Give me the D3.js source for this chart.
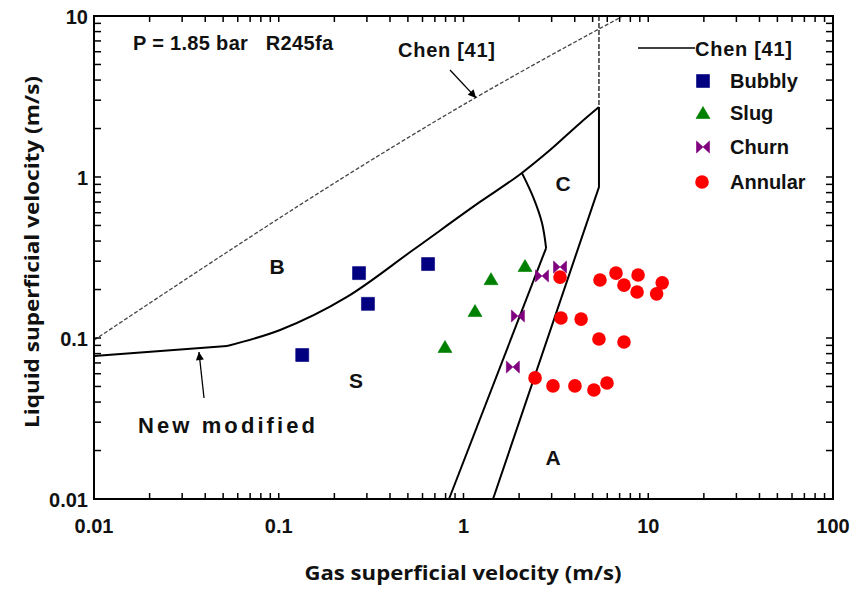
<!DOCTYPE html>
<html><head><meta charset="utf-8">
<script src="https://cdn.jsdelivr.net/npm/d3@7"></script>
<style>
body{margin:0;background:#fff}
text{font-family:"Liberation Sans",Arial,sans-serif;font-weight:bold;fill:#111}
</style>
</head><body><svg id="c" width="856" height="590"></svg>
<script>
// ---- data ----
const bubblyX=[0.134,0.272,0.304,0.643];
const bubblyY=[0.0784,0.253,0.163,0.288];
const slugX=[0.794,1.154,1.409,2.153];
const slugY=[0.0879,0.147,0.232,0.280];
const churnX=[1.85,1.97,2.66,3.33];
const churnY=[0.066,0.137,0.243,0.276];
const annularX=[2.44,3.05,4.01,5.08,5.98,3.33,5.48,6.69,7.39,8.81,8.70,11.1,11.9,3.37,4.33,5.41,7.39];
const annularY=[0.0565,0.0504,0.0504,0.0475,0.0525,0.239,0.229,0.253,0.213,0.246,0.193,0.188,0.220,0.133,0.131,0.0986,0.0944];
// Chen [41] boundaries (dashed)
const chenX=[0.01,0.13,1.18,7.3];
const chenY=[0.097,0.67,3.14,10];
const chenVertX=[5.41,5.41];
const chenVertY=[10,2.72];
// New modified boundaries (solid)
const bsStraightX=[0.01,0.0525];
const bsStraightY=[0.0773,0.0891];
const bsCurveX=[0.0525,0.1017,0.234,0.533,1.228,2.07,2.94,4.27,5.41];
const bsCurveY=[0.0891,0.1122,0.180,0.352,0.700,1.06,1.47,2.16,2.72];
const scArcX=[2.07,2.38,2.66,2.80];
const scArcY=[1.06,0.752,0.518,0.362];
const scLineX=[2.80,0.835];
const scLineY=[0.362,0.01];
const caX=[5.41,5.41,1.445];
const caY=[2.72,0.867,0.01];
// axes
const xTicks=[0.01,0.1,1,10,100];
const xTickLabels=["0.01","0.1","1","10","100"];
const yTicks=[0.01,0.1,1,10];
const yTickLabels=["0.01","0.1","1","10"];
const minorMult=[1,2,3,4,5,6,7,8,9];
// legend
const legendNames=["Bubbly","Slug","Churn","Annular"];
const legendColors=["#000080","#008000","#800080","#ff0000"];
// region letters [label, x, y]
const regions=[["B",0.0978,0.28],["S",0.262,0.0548],["C",3.46,0.918],["A",3.05,0.0182]];

const svg=d3.select("#c");
const L=94,R=833,T=16,B=499;
const x=d3.scaleLog().domain([0.01,100]).range([L,R]);
const y=d3.scaleLog().domain([0.01,10]).range([B,T]);

function minors(lo,hi){const a=[];for(let e=Math.log10(lo);e<Math.log10(hi)-1e-9;e++){minorMult.forEach(m=>a.push(m*Math.pow(10,e)));}a.push(hi);return a;}
const xMin=minors(0.01,100), yMin=minors(0.01,10);

// ---- lines ----
const line=d3.line().x(d=>x(d[0])).y(d=>y(d[1]));
const zip=(a,b)=>a.map((v,i)=>[v,b[i]]);
const g=svg.append("g");
g.append("path").attr("d",d3.line().x(d=>x(d[0])).y(d=>y(d[1])).curve(d3.curveNatural)(zip(chenX,chenY)))
 .attr("fill","none").attr("stroke","#444").attr("stroke-width",1.3).attr("stroke-dasharray","4,2");
g.append("path").attr("d",line(zip(chenVertX,chenVertY)))
 .attr("fill","none").attr("stroke","#333").attr("stroke-width",1.5).attr("stroke-dasharray","5,2");
g.append("path").attr("d",line(zip(bsStraightX,bsStraightY))).attr("fill","none").attr("stroke","#000").attr("stroke-width",2);
g.append("path").attr("d",d3.line().x(d=>x(d[0])).y(d=>y(d[1])).curve(d3.curveMonotoneX)(zip(bsCurveX,bsCurveY)))
 .attr("fill","none").attr("stroke","#000").attr("stroke-width",2);
g.append("path").attr("d",d3.line().x(d=>x(d[0])).y(d=>y(d[1])).curve(d3.curveCatmullRom)(zip(scArcX,scArcY)))
 .attr("fill","none").attr("stroke","#000").attr("stroke-width",2);
g.append("path").attr("d",line(zip(scLineX,scLineY))).attr("fill","none").attr("stroke","#000").attr("stroke-width",2);
g.append("path").attr("d",line(zip(caX,caY))).attr("fill","none").attr("stroke","#000").attr("stroke-width",2);

// ---- markers ----
const sym={
 square:"M-6.5,-6.5H6.5V6.5H-6.5Z",
 tri:"M0,-6.5L7,5.5L-7,5.5Z",
 bow:"M-6.5,-6L0,0L-6.5,6Z M6.5,-6L0,0L6.5,6Z",
};
function pts(X,Y,color,kind){
  const s=svg.append("g");
  zip(X,Y).forEach(p=>{
    if(kind==="circle") s.append("circle").attr("cx",x(p[0])).attr("cy",y(p[1])).attr("r",6.8).attr("fill",color);
    else s.append("path").attr("d",sym[kind]).attr("transform",`translate(${x(p[0])},${y(p[1])})`).attr("fill",color).attr("stroke",color).attr("stroke-width",0.6);
  });
}
pts(bubblyX,bubblyY,legendColors[0],"square");
pts(slugX,slugY,legendColors[1],"tri");
pts(churnX,churnY,legendColors[2],"bow");
pts(annularX,annularY,legendColors[3],"circle");

// ---- axes ----
const ax=svg.append("g").attr("stroke","#000");
ax.append("rect").attr("x",L).attr("y",T).attr("width",R-L).attr("height",B-T).attr("fill","none").attr("stroke-width",2);
xMin.forEach(v=>{
  ax.append("line").attr("x1",x(v)).attr("x2",x(v)).attr("y1",B).attr("y2",B-6).attr("stroke-width",1.5);
  ax.append("line").attr("x1",x(v)).attr("x2",x(v)).attr("y1",T).attr("y2",T+6).attr("stroke-width",1.5);
});
yMin.forEach(v=>{
  ax.append("line").attr("x1",L).attr("x2",L+7).attr("y1",y(v)).attr("y2",y(v)).attr("stroke-width",1.5);
  ax.append("line").attr("x1",R).attr("x2",R-7).attr("y1",y(v)).attr("y2",y(v)).attr("stroke-width",1.5);
});
xTicks.forEach((v,i)=>svg.append("text").attr("x",x(v)).attr("y",533).attr("text-anchor","middle").attr("font-size",20).text(xTickLabels[i]));
yTicks.forEach((v,i)=>svg.append("text").attr("x",88).attr("y",y(v)+8).attr("text-anchor","end").attr("font-size",20).text(yTickLabels[i]));

svg.append("text").attr("x",463).attr("y",580).attr("text-anchor","middle").attr("font-size",20)
  .style("font-family","'Open Sans', sans-serif").style("font-weight","700").attr("textLength",317).attr("lengthAdjust","spacingAndGlyphs").text("Gas superficial velocity (m/s)");
svg.append("text").attr("transform",`translate(39,${252}) rotate(-90)`).attr("text-anchor","middle").attr("font-size",20)
  .style("font-family","'Open Sans', sans-serif").style("font-weight","700").attr("textLength",352).attr("lengthAdjust","spacingAndGlyphs").text("Liquid superficial velocity (m/s)");

// ---- annotations ----
svg.append("defs").append("marker").attr("id","ah").attr("viewBox","0 0 10 10").attr("refX",10).attr("refY",5)
  .attr("markerWidth",10).attr("markerHeight",8).attr("markerUnits","userSpaceOnUse").attr("orient","auto")
  .append("path").attr("d","M0,0L10,5L0,10Z").attr("fill","#000");
svg.append("line").attr("x1",x(0.845)).attr("y1",y(4.62)).attr("x2",x(1.17)).attr("y2",y(3.1))
  .attr("stroke","#000").attr("stroke-width",1.3).attr("marker-end","url(#ah)");
svg.append("line").attr("x1",x(0.0394)).attr("y1",y(0.0424)).attr("x2",x(0.037)).attr("y2",y(0.0818))
  .attr("stroke","#000").attr("stroke-width",1.3).attr("marker-end","url(#ah)");

svg.append("text").attr("x",133).attr("y",50).attr("font-size",20).attr("textLength",200).attr("xml:space","preserve").text("P = 1.85 bar   R245fa");
svg.append("text").attr("x",398).attr("y",57).attr("font-size",20).attr("textLength",97).text("Chen [41]");
svg.append("text").attr("x",138).attr("y",433).attr("font-size",22).attr("textLength",177).text("New modified");
regions.forEach(d=>
  svg.append("text").attr("x",x(d[1])).attr("y",y(d[2])+8).attr("text-anchor","middle").attr("font-size",21).text(d[0]));

// ---- legend ----
const lg=svg.append("g");
lg.append("line").attr("x1",638).attr("x2",695).attr("y1",48).attr("y2",48).attr("stroke","#000").attr("stroke-width",1.5);
lg.append("text").attr("x",695).attr("y",56).attr("font-size",20).attr("textLength",97).text("Chen [41]");
const kinds=["square","tri","bow","circle"];
const ly=[81,113,147,182];
legendNames.forEach((n,i)=>{
  if(kinds[i]==="circle") lg.append("circle").attr("cx",702).attr("cy",ly[i]).attr("r",6.8).attr("fill",legendColors[i]);
  else lg.append("path").attr("d",sym[kinds[i]]).attr("transform",`translate(703,${ly[i]})`).attr("fill",legendColors[i]).attr("stroke",legendColors[i]).attr("stroke-width",0.6);
  lg.append("text").attr("x",730).attr("y",ly[i]+7).attr("font-size",20).text(n);
});
</script></body></html>
